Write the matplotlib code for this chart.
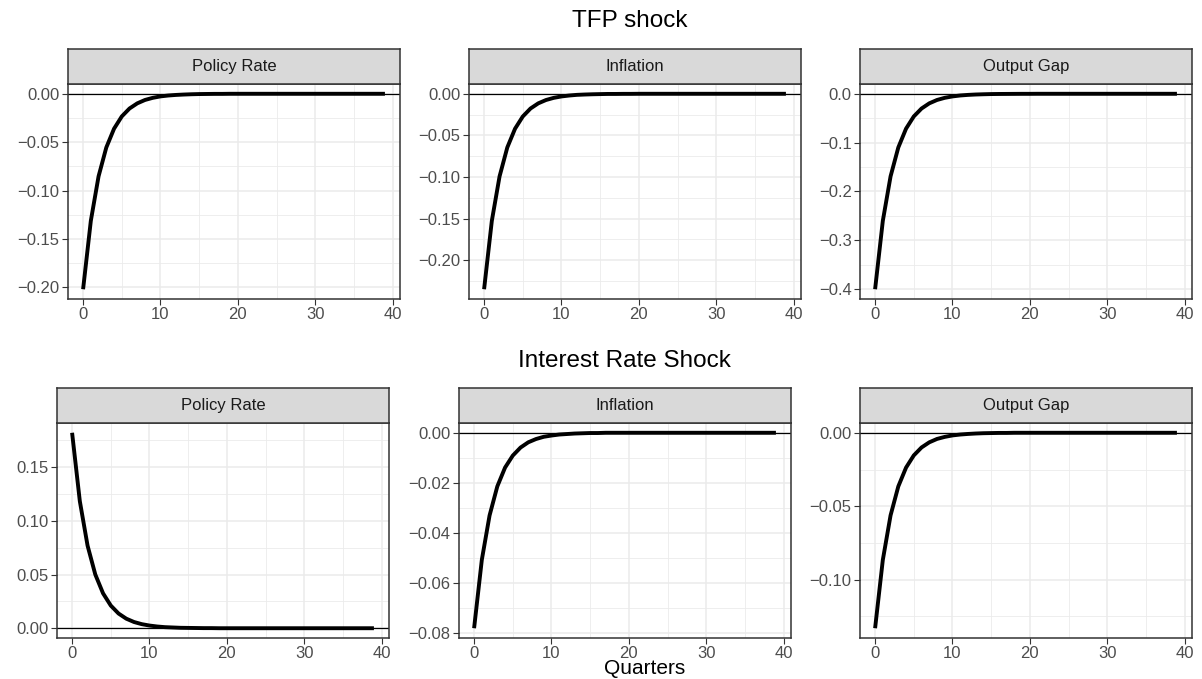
import matplotlib
matplotlib.use("Agg")
from matplotlib import pyplot as plt
from matplotlib.ticker import MultipleLocator, FuncFormatter

plt.rcParams['font.family'] = ['Liberation Sans', 'DejaVu Sans']

quarters = list(range(40))

# impulse responses, TFP shock
tfp_rate = [-0.2020, -0.1313, -0.0853, -0.0555, -0.0361, -0.0234, -0.0152, -0.0099, -0.0064, -0.0042,
            -0.0027, -0.0018, -0.0012, -0.0008, -0.0005, -0.0003, -0.0002, -0.0001, -0.0001, 0.0000,
            0.0, 0.0, 0.0, 0.0, 0.0, 0.0, 0.0, 0.0, 0.0, 0.0,
            0.0, 0.0, 0.0, 0.0, 0.0, 0.0, 0.0, 0.0, 0.0, 0.0]
tfp_infl = [-0.2350, -0.1528, -0.0993, -0.0645, -0.0420, -0.0273, -0.0177, -0.0115, -0.0075, -0.0049,
            -0.0032, -0.0021, -0.0013, -0.0009, -0.0006, -0.0004, -0.0002, -0.0002, -0.0001, -0.0001,
            0.0, 0.0, 0.0, 0.0, 0.0, 0.0, 0.0, 0.0, 0.0, 0.0,
            0.0, 0.0, 0.0, 0.0, 0.0, 0.0, 0.0, 0.0, 0.0, 0.0]
tfp_gap = [-0.4000, -0.2600, -0.1690, -0.1099, -0.0714, -0.0464, -0.0302, -0.0196, -0.0127, -0.0083,
           -0.0054, -0.0035, -0.0023, -0.0015, -0.0010, -0.0006, -0.0004, -0.0003, -0.0002, -0.0001,
           -0.0001, 0.0, 0.0, 0.0, 0.0, 0.0, 0.0, 0.0, 0.0, 0.0,
           0.0, 0.0, 0.0, 0.0, 0.0, 0.0, 0.0, 0.0, 0.0, 0.0]

# impulse responses, interest rate shock
ir_rate = [0.1820, 0.1183, 0.0769, 0.0500, 0.0325, 0.0211, 0.0137, 0.0089, 0.0058, 0.0038,
           0.0025, 0.0016, 0.0010, 0.0007, 0.0004, 0.0003, 0.0002, 0.0001, 0.0001, 0.0000,
           0.0, 0.0, 0.0, 0.0, 0.0, 0.0, 0.0, 0.0, 0.0, 0.0,
           0.0, 0.0, 0.0, 0.0, 0.0, 0.0, 0.0, 0.0, 0.0, 0.0]
ir_infl = [-0.0780, -0.0507, -0.0330, -0.0214, -0.0139, -0.0091, -0.0059, -0.0038, -0.0025, -0.0016,
           -0.0011, -0.0007, -0.0005, -0.0003, -0.0002, -0.0001, -0.0001, 0.0000, 0.0, 0.0,
           0.0, 0.0, 0.0, 0.0, 0.0, 0.0, 0.0, 0.0, 0.0, 0.0,
           0.0, 0.0, 0.0, 0.0, 0.0, 0.0, 0.0, 0.0, 0.0, 0.0]
ir_gap = [-0.1330, -0.0865, -0.0562, -0.0365, -0.0237, -0.0154, -0.0100, -0.0065, -0.0042, -0.0028,
          -0.0018, -0.0012, -0.0008, -0.0005, -0.0003, -0.0002, -0.0001, -0.0001, 0.0000, 0.0,
          0.0, 0.0, 0.0, 0.0, 0.0, 0.0, 0.0, 0.0, 0.0, 0.0,
          0.0, 0.0, 0.0, 0.0, 0.0, 0.0, 0.0, 0.0, 0.0, 0.0]

panel_names = ["Policy Rate", "Inflation", "Output Gap"]
row_titles = ["TFP shock", "Interest Rate Shock"]
row_series = [[tfp_rate, tfp_infl, tfp_gap], [ir_rate, ir_infl, ir_gap]]
# (major y step, decimals)
row_yticks = [[(0.05, 2), (0.05, 2), (0.1, 1)], [(0.05, 2), (0.02, 2), (0.05, 2)]]

W, H = 1202, 679
fig = plt.figure(figsize=(W / 100, H / 100), dpi=100)

# panel layout in pixels: left edges per row, strip top, panel bottom
lefts = [[68, 469, 860], [57, 459, 860]]
strip_tops = [49, 388]
panel_w = 332
strip_h = 35
panel_h = 215

BORDER = "#333333"
GRID = "#EBEBEB"


def fmt(decimals):
    def f(v, pos):
        if abs(v) < 1e-12:
            v = 0.0
        return f"{v:.{decimals}f}".replace("-", "\u2212")
    return FuncFormatter(f)


for r in range(2):
    for c in range(3):
        x0 = lefts[r][c]
        top = strip_tops[r]
        ax = fig.add_axes([x0 / W, (H - top - strip_h - panel_h) / H, panel_w / W, panel_h / H])
        st = fig.add_axes([x0 / W, (H - top - strip_h) / H, panel_w / W, strip_h / H])

        vals = row_series[r][c]
        ax.axhline(0, color="black", lw=0.9, zorder=2)
        ax.plot(quarters, vals, color="black", lw=2.8, solid_capstyle="butt", zorder=3)

        lo, hi = min(min(vals), 0), max(max(vals), 0)
        pad = 0.05 * (hi - lo)
        ax.set_ylim(lo - pad, hi + pad)
        ax.set_xlim(-0.05 * 39, 39 * 1.05)

        step, dec = row_yticks[r][c]
        ax.yaxis.set_major_locator(MultipleLocator(step))
        ax.yaxis.set_minor_locator(MultipleLocator(step / 2))
        ax.yaxis.set_major_formatter(fmt(dec))
        ax.xaxis.set_major_locator(MultipleLocator(10))
        ax.xaxis.set_minor_locator(MultipleLocator(5))

        ax.grid(which="major", color=GRID, lw=1.1, zorder=0)
        ax.grid(which="minor", color=GRID, lw=0.6, zorder=0)
        ax.set_axisbelow(True)
        ax.tick_params(which="major", length=4, width=0.8, color=BORDER,
                       labelsize=12, labelcolor="#4D4D4D", pad=2)
        ax.tick_params(which="minor", length=0)
        for s in ax.spines.values():
            s.set_color(BORDER)
            s.set_linewidth(1.1)

        st.set_facecolor("#D9D9D9")
        st.set_xticks([])
        st.set_yticks([])
        for s in st.spines.values():
            s.set_color(BORDER)
            s.set_linewidth(1.1)
        st.text(0.5, 0.5, panel_names[c], ha="center", va="center",
                fontsize=12, color="#1A1A1A", transform=st.transAxes)

fig.text(630 / W, 1 - 21 / H, row_titles[0], ha="center", va="center", fontsize=17.5)
fig.text(624 / W, 1 - 361 / H, row_titles[1], ha="center", va="center", fontsize=17.5)
fig.text(645 / W, 1 - 668 / H, "Quarters", ha="center", va="center", fontsize=15)

fig.savefig("out.png", dpi=100, facecolor="white")
